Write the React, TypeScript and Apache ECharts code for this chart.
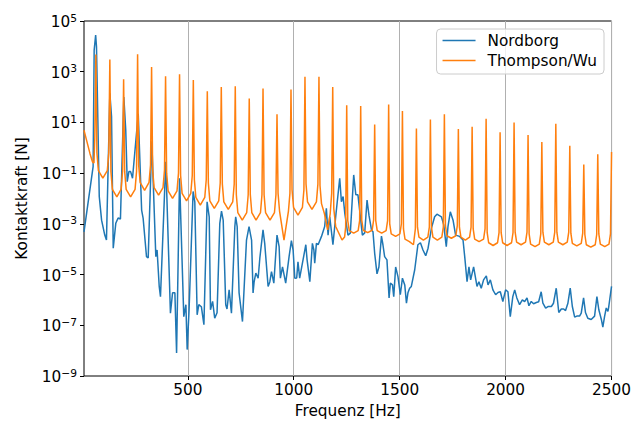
import React, { useEffect, useRef } from 'react';
import * as echarts from 'echarts';

// Frequency ticks [Hz]
const xTicks = [500, 1000, 1500, 2000, 2500];

// Nordborg: [frequency Hz, contact force N]
const nordborg: [number, number][] = [
  [10, 4.8e-4], [53, 1.8e-1], [58, 7.1e3], [65, 2.8e4], [69, 9.5e3], [82, 1.2e-2], [93, 1.4e-3], [108, 3.6e-4], [116, 2.3e-4],
  [132, 1.4e2], [140, 1.7e1], [148, 1.1e-4], [160, 1.05e-3], [171, 1.7e-3], [182, 1.55e-3], [198, 1.0e2], [207, 5.0],
  [214, 4.6e-2], [222, 1.15e-1], [230, 1.15e-1], [239, 6.3e-2], [266, 2.2e1], [282, 3.5e-3], [289, 1.7e-3], [305, 5.1e-5],
  [313, 4.5e-5], [330, 1.8], [349, 5.1e-5], [355, 9.3e-5], [365, 3.4e-6], [371, 1.35e-6], [396, 2.8e-1], [418, 3.0e-7],
  [428, 1.9e-6], [439, 1.9e-6], [447, 8.1e-9], [461, 6.3e-2], [481, 2.2e-7], [491, 6.5e-7], [497, 1.1e-8], [506, 4.1e-7],
  [525, 1.9e-2], [533, 7.4e-3], [544, 2.6e-7], [552, 6.5e-7], [564, 5.4e-7], [576, 1.05e-7], [591, 7.4e-3], [601, 1.9e-3],
  [607, 4.1e-7], [617, 8.7e-7], [627, 1.9e-7], [638, 3.1e-7], [651, 1.05e-3], [659, 3.2e-3], [667, 1.4e-3], [679, 6.5e-7],
  [685, 4.4e-7], [695, 2.5e-6], [706, 3.0e-7], [722, 7.8e-4], [726, 1.9e-3], [733, 7.8e-4], [742, 1.9e-6], [758, 1.4e-7],
  [777, 2.3e-4], [789, 7.8e-4], [801, 2.3e-4], [808, 1.9e-6], [813, 5.2e-6], [821, 1.15e-5], [832, 7.2e-6], [840, 4.5e-5],
  [855, 5.8e-4], [863, 1.7e-4], [879, 3.4e-6], [887, 5.1e-6], [895, 1.3e-5], [906, 4.6e-6], [921, 3.6e-4], [931, 1.26e-4],
  [937, 7.2e-6], [947, 2.0e-5], [962, 4.6e-6], [978, 5.1e-5], [989, 2.2e-4], [997, 9.3e-5], [1005, 7.2e-6], [1014, 7.4e-6],
  [1020, 3.2e-5], [1028, 7.2e-6], [1041, 2.8e-5], [1057, 1.5e-4], [1063, 3.8e-5], [1076, 5.2e-6], [1088, 1.7e-4], [1095, 9.3e-5],
  [1099, 2.8e-5], [1107, 1.7e-4], [1115, 1.5e-4], [1131, 3.2e-4], [1146, 7.8e-4], [1154, 4.1e-3], [1162, 3.6e-4], [1170, 1.9e-3],
  [1185, 1.5e-4], [1198, 1.9e-3], [1217, 6.3e-2], [1225, 7.4e-3], [1233, 1.2e-2], [1241, 2.6e-3], [1256, 3.6e-4], [1267, 4.3e-4],
  [1283, 8.5e-2], [1293, 1.4e-2], [1303, 1.4e-2], [1324, 3.6e-4], [1335, 4.4e-4], [1346, 8.7e-3], [1355, 2.2e-3], [1367, 5.8e-4],
  [1374, 4.9e-4], [1382, 6.9e-5], [1393, 1.07e-5], [1402, 2.0e-5], [1414, 3.3e-4], [1421, 1.5e-4], [1429, 5.1e-5], [1440, 3.8e-5],
  [1450, 1.2e-6], [1456, 4.6e-6], [1466, 3.9e-6], [1472, 1.35e-6], [1481, 2.0e-5], [1492, 8.3e-6], [1503, 1.6e-6], [1513, 7.2e-6],
  [1524, 3.9e-6], [1532, 7.4e-7], [1539, 1.9e-6], [1547, 2.9e-6], [1555, 3.4e-6], [1571, 1.55e-5], [1586, 1.5e-4], [1598, 1.8e-4],
  [1610, 9.3e-5], [1623, 5.5e-5], [1634, 1.1e-4], [1650, 6.8e-4], [1665, 1.9e-3], [1676, 2.4e-3], [1697, 1.9e-3], [1708, 9.1e-4],
  [1720, 1.26e-4], [1728, 7.8e-4], [1739, 3.0e-3], [1752, 1.4e-3], [1764, 3.6e-4], [1783, 3.2e-4], [1799, 2.3e-4], [1807, 5.1e-5],
  [1818, 5.2e-6], [1827, 2.0e-5], [1835, 6.2e-6], [1849, 2.0e-5], [1865, 3.4e-6], [1874, 5.2e-6], [1885, 2.9e-6], [1896, 6.2e-6],
  [1909, 8.9e-6], [1917, 3.9e-6], [1928, 6.2e-6], [1940, 2.5e-6], [1953, 1.6e-6], [1964, 1.95e-6], [1975, 2.1e-6], [1987, 8.7e-7],
  [2000, 2.5e-6], [2011, 2.1e-6], [2022, 2.2e-7], [2034, 1.35e-6], [2043, 2.5e-6], [2053, 1.2e-6], [2066, 6.5e-7], [2079, 1.0e-6],
  [2090, 8.5e-7], [2101, 1.2e-6], [2110, 5.9e-7], [2121, 8.7e-7], [2132, 7.1e-7], [2145, 7.9e-7], [2156, 8.5e-7], [2168, 2.1e-6],
  [2176, 7.4e-7], [2189, 4.8e-7], [2200, 5.5e-7], [2216, 5.5e-7], [2226, 7.4e-7], [2239, 2.9e-6], [2251, 3.2e-7], [2263, 4.4e-7],
  [2274, 4.4e-7], [2283, 3.8e-7], [2294, 7.4e-7], [2305, 2.9e-6], [2315, 5.5e-7], [2326, 2.1e-7], [2336, 2.3e-7], [2349, 2.3e-7],
  [2357, 3.0e-7], [2368, 1.2e-6], [2377, 3.2e-7], [2388, 1.9e-7], [2404, 1.7e-7], [2420, 2.3e-7], [2431, 1.35e-6], [2440, 4.1e-7],
  [2452, 1.7e-7], [2459, 8.5e-8], [2467, 2.2e-7], [2475, 4.8e-7], [2483, 3.5e-7], [2487, 5.5e-7], [2500, 3.4e-6],
];

// Thompson/Wu: [frequency Hz, contact force N]
const thompsonWu: [number, number][] = [
  [10, 4.9], [22, 2.0], [38, 0.6], [50, 0.28], [57, 0.25], [61, 2.5], [66, 4.8e3], [71, 0.63], [78, 0.126], [99, 0.063],
  [120, 0.126], [127, 0.63], [132, 3.0e3], [137, 0.117], [144, 0.023], [165, 0.0117],
  [185, 0.023], [192, 0.117], [197, 500], [202, 0.117], [209, 0.023], [230, 0.0117],
  [251, 0.023], [258, 0.117], [263, 4.9e3], [268, 0.21], [275, 0.043], [296, 0.021],
  [317, 0.043], [324, 0.21], [329, 1.55e3], [334, 0.135], [341, 0.027], [362, 0.0135],
  [383, 0.027], [390, 0.135], [395, 660], [400, 0.1], [407, 0.02], [428, 0.0102],
  [449, 0.02], [456, 0.1], [461, 800], [466, 0.081], [473, 0.016], [494, 0.0081],
  [514, 0.016], [521, 0.081], [526, 470], [531, 0.055], [538, 0.011], [559, 0.0055],
  [580, 0.011], [587, 0.055], [592, 170], [597, 0.041], [604, 0.0081], [625, 0.0041],
  [646, 0.0081], [653, 0.041], [658, 250], [663, 0.037], [670, 0.0074], [691, 0.0037],
  [712, 0.0074], [719, 0.037], [724, 270], [729, 0.014], [736, 0.0028], [757, 0.0014],
  [778, 0.0028], [785, 0.014], [790, 87], [795, 0.014], [802, 0.0028], [822, 0.0014],
  [843, 0.0028], [850, 0.014], [855, 220], [860, 0.014], [867, 0.0028], [888, 0.0014],
  [909, 0.0028], [916, 0.014], [921, 21], [926, 0.016], [933, 0.0032], [954, 2.3e-4],
  [975, 0.0032], [982, 0.016], [987, 200], [992, 0.022], [999, 0.0045], [1020, 0.0022],
  [1041, 0.0045], [1048, 0.022], [1053, 630], [1058, 0.037], [1065, 0.0074], [1086, 0.0037],
  [1107, 0.0074], [1114, 0.037], [1119, 630], [1124, 0.032], [1131, 0.0063], [1145, 0.0025], [1160, 5.8e-4],
  [1172, 0.0025], [1179, 0.016], [1184, 250], [1189, 0.004], [1198, 7.9e-4], [1228, 2.3e-4],
  [1240, 3.0e-4], [1245, 7.4e-4], [1250, 48], [1255, 1.35e-3], [1262, 5.4e-4], [1283, 4.3e-4],
  [1304, 5.4e-4], [1311, 1.35e-3], [1316, 44], [1321, 1.4e-3], [1328, 5.6e-4], [1349, 4.5e-4],
  [1370, 5.6e-4], [1377, 1.4e-3], [1382, 8.3], [1387, 1.35e-3], [1394, 5.4e-4], [1415, 4.3e-4],
  [1436, 5.4e-4], [1443, 1.35e-3], [1448, 51], [1453, 1.0e-3], [1460, 4.0e-4], [1481, 3.2e-4],
  [1501, 4.0e-4], [1508, 1.0e-3], [1513, 28], [1518, 6.3e-4], [1525, 2.5e-4], [1546, 2.0e-4],
  [1565, 1.5e-4], [1574, 6.3e-4], [1579, 5.8], [1584, 7.4e-4], [1591, 3.0e-4], [1612, 2.3e-4],
  [1633, 3.0e-4], [1640, 7.4e-4], [1645, 13], [1650, 7.4e-4], [1657, 3.0e-4], [1678, 2.3e-4],
  [1699, 3.0e-4], [1706, 7.4e-4], [1711, 21], [1716, 8.5e-4], [1723, 3.4e-4], [1744, 2.7e-4],
  [1765, 3.4e-4], [1772, 8.5e-4], [1777, 5.5], [1782, 7.4e-4], [1789, 3.0e-4], [1810, 2.3e-4],
  [1830, 3.0e-4], [1837, 7.4e-4], [1842, 6.8], [1847, 6.3e-4], [1854, 2.5e-4], [1875, 2.0e-4],
  [1896, 2.5e-4], [1903, 6.3e-4], [1908, 14], [1913, 4.5e-4], [1920, 1.8e-4], [1941, 1.4e-4],
  [1962, 1.8e-4], [1969, 4.5e-4], [1974, 4.1], [1979, 4.5e-4], [1986, 1.8e-4], [2007, 1.4e-4],
  [2028, 1.8e-4], [2035, 4.5e-4], [2040, 10], [2045, 4.7e-4], [2052, 1.9e-4], [2073, 1.5e-4],
  [2094, 1.9e-4], [2101, 4.7e-4], [2106, 3.2], [2111, 4.0e-4], [2118, 1.6e-4], [2139, 1.26e-4],
  [2159, 1.6e-4], [2166, 4.0e-4], [2171, 1.7], [2176, 4.7e-4], [2183, 1.9e-4], [2204, 1.5e-4],
  [2225, 1.9e-4], [2232, 4.7e-4], [2237, 8.9], [2242, 4.7e-4], [2249, 1.9e-4], [2270, 1.5e-4],
  [2291, 1.9e-4], [2298, 4.7e-4], [2303, 1.2], [2308, 4.3e-4], [2315, 1.7e-4], [2336, 1.35e-4],
  [2357, 1.7e-4], [2364, 4.3e-4], [2369, 0.22], [2374, 3.8e-4], [2381, 1.5e-4], [2402, 1.2e-4],
  [2423, 1.5e-4], [2430, 3.8e-4], [2435, 0.55], [2440, 4.0e-4], [2447, 1.6e-4], [2468, 1.26e-4],
  [2488, 1.6e-4], [2495, 4.0e-4], [2500, 0.68],
];

const FONT = 'DejaVu Sans';
const FS = 15.3;

export default function App() {
  const ref = useRef<HTMLDivElement>(null);
  useEffect(() => {
    if (!ref.current) return;
    const chart = echarts.init(ref.current, null, { renderer: 'svg' });
    chart.setOption({
      animation: false,
      backgroundColor: '#ffffff',
      textStyle: { fontFamily: FONT },
      grid: {
        left: 84, right: 22, top: 21, bottom: 48,
        show: true, borderColor: '#000000', borderWidth: 1, backgroundColor: 'transparent',
      },
      legend: {
        data: ['Nordborg', 'Thompson/Wu'],
        orient: 'vertical',
        right: 30,
        top: 29,
        icon: 'rect',
        itemWidth: 33,
        itemHeight: 1.6,
        itemGap: 5,
        backgroundColor: 'rgba(255,255,255,0.8)',
        borderColor: '#cccccc',
        borderWidth: 1,
        borderRadius: 4,
        padding: [4, 7, 6, 6],
        textStyle: { fontSize: FS, color: '#000000', fontFamily: FONT, padding: [0, 0, 0, 7] },
      },
      xAxis: {
        type: 'value',
        min: 10,
        max: 2500,
        name: 'Frequenz [Hz]',
        nameLocation: 'middle',
        nameGap: 27,
        nameTextStyle: { fontSize: FS, color: '#000000', fontFamily: FONT },
        axisLine: { show: false, onZero: false },
        axisTick: { show: true, inside: false, length: 4, customValues: xTicks, lineStyle: { color: '#000000', width: 1 } },
        axisLabel: {
          customValues: xTicks,
          formatter: (v: number) => String(v),
          fontSize: FS,
          color: '#000000',
          fontFamily: FONT,
          margin: 6,
        },
        splitLine: { show: true, lineStyle: { color: '#b0b0b0', width: 1 } },
      },
      yAxis: [
        {
          type: 'value',
          min: -9,
          max: 5,
          interval: 2,
          position: 'left',
          name: 'Kontaktkraft [N]',
          nameLocation: 'middle',
          nameGap: 55,
          nameTextStyle: { fontSize: FS, color: '#000000', fontFamily: FONT },
          axisLine: { show: false, onZero: false },
          axisTick: { show: true, inside: false, length: 4, lineStyle: { color: '#000000', width: 1 } },
          axisLabel: {
            margin: 7,
            formatter: (v: number) => `{b|10}{s|${v < 0 ? '\u2212' + -v : v}}`,
            rich: {
              b: { fontSize: FS, fontFamily: FONT, color: '#000000', verticalAlign: 'bottom', lineHeight: 17 },
              s: { fontSize: 10.7, fontFamily: FONT, color: '#000000', verticalAlign: 'top', lineHeight: 11, padding: [0, 0, 7, 0] },
            },
          },
          splitLine: { show: false },
        },
        {
          type: 'log',
          logBase: 10,
          min: 1e-9,
          max: 1e5,
          position: 'right',
          axisLine: { show: false, onZero: false },
          axisTick: { show: false },
          axisLabel: { show: false },
          splitLine: { show: false },
        },
      ],
      series: [
        {
          name: 'Nordborg',
          type: 'line',
          yAxisIndex: 1,
          data: nordborg,
          symbol: 'none',
          showSymbol: false,
          color: '#1f77b4',
          lineStyle: { color: '#1f77b4', width: 1.5 },
          z: 3,
        },
        {
          name: 'Thompson/Wu',
          type: 'line',
          yAxisIndex: 1,
          data: thompsonWu,
          symbol: 'none',
          showSymbol: false,
          color: '#ff7f0e',
          lineStyle: { color: '#ff7f0e', width: 1.5 },
          z: 4,
        },
      ],
    });
    return () => chart.dispose();
  }, []);
  return <div ref={ref} style={{ position: 'absolute', left: 0, top: 0, width: 634, height: 424 }} />;
}
